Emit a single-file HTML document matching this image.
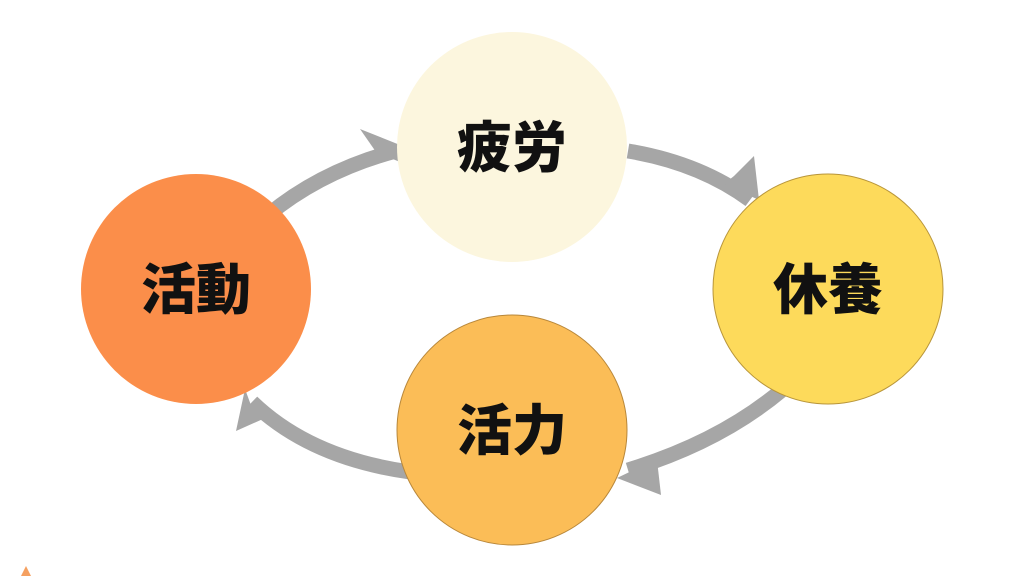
<!DOCTYPE html>
<html><head><meta charset="utf-8"><style>
html,body{margin:0;padding:0;background:#fff;}
svg{display:block}
text{font-family:"Liberation Sans","Noto Sans CJK JP",sans-serif;font-weight:900;font-size:55px;fill:#111;}
</style></head><body>
<svg width="1024" height="576" viewBox="0 0 1024 576">
<g fill="none" stroke="#a6a6a6" stroke-width="15">
<path d="M268,215 Q320,172 392,152"/>
<path d="M628,151 Q700,163 750,200"/>
<path d="M782,390 Q720,442 628,470"/>
<path d="M410,472 Q310,458 252,402"/>
</g>
<g fill="#a6a6a6">
<polygon points="360,129 400,145 400,162 376,152"/>
<polygon points="754,156 759,200 724,184 734,176"/>
<polygon points="617,478 661,495 657,460 644,465"/>
<polygon points="245,389 236,431 263,419 252,408"/>
</g>
<circle cx="512" cy="147" r="115" fill="#fcf6de"/>
<circle cx="196" cy="289" r="115" fill="#fb8e4a"/>
<circle cx="828" cy="289" r="115" fill="#fdda5b" stroke="#b8953a" stroke-width="1"/>
<circle cx="512" cy="430" r="115" fill="#fbbd57" stroke="#b8873a" stroke-width="1"/>
<text x="512" y="167" text-anchor="middle">疲労</text>
<text x="196" y="309" text-anchor="middle">活動</text>
<text x="828" y="309" text-anchor="middle">休養</text>
<text x="512" y="450" text-anchor="middle">活力</text>
<polygon points="21,576 26,566 31,576" fill="#f5a060"/>
</svg>
</body></html>
